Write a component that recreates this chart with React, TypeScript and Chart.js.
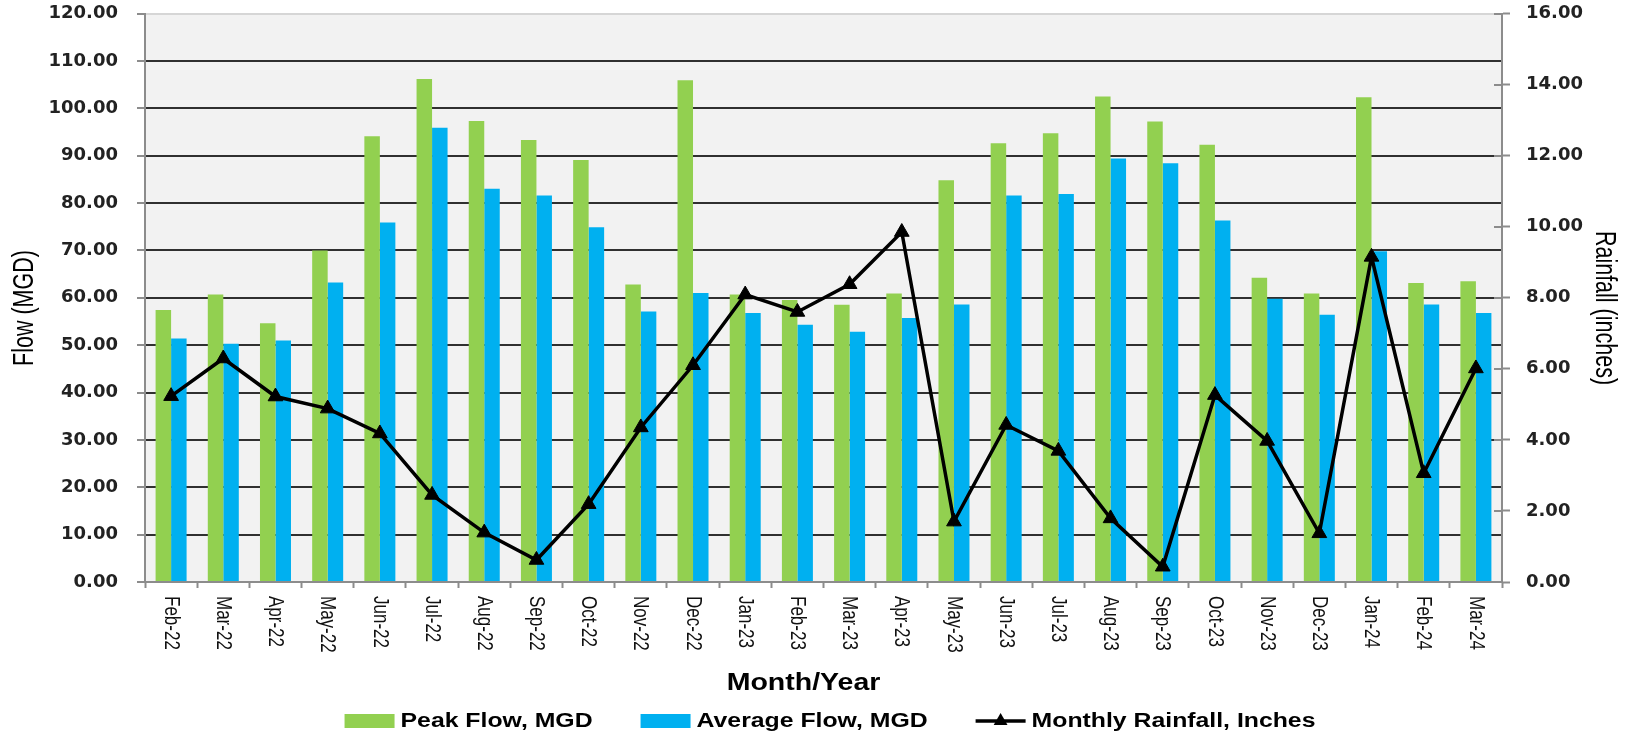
import React, { useEffect, useRef } from "react";
import { Chart, registerables } from "chart.js";

Chart.register(...registerables);

// Monthly flow and rainfall record
const months = [
  "Feb-22", "Mar-22", "Apr-22", "May-22", "Jun-22", "Jul-22", "Aug-22", "Sep-22",
  "Oct-22", "Nov-22", "Dec-22", "Jan-23", "Feb-23", "Mar-23", "Apr-23", "May-23",
  "Jun-23", "Jul-23", "Aug-23", "Sep-23", "Oct-23", "Nov-23", "Dec-23", "Jan-24",
  "Feb-24", "Mar-24",
];

const peakFlow = [
  57.4, 60.7, 54.6, 70.0, 94.1, 106.2, 97.3, 93.3, 89.1, 62.8, 105.9, 60.7, 59.5,
  58.5, 60.9, 84.8, 92.6, 94.7, 102.5, 97.2, 92.3, 64.2, 60.9, 102.3, 63.1, 63.5,
];

const avgFlow = [
  51.4, 50.3, 51.0, 63.2, 75.9, 95.9, 83.0, 81.6, 74.9, 57.1, 61.0, 56.8, 54.3,
  52.8, 55.7, 58.6, 81.6, 81.9, 89.4, 88.4, 76.3, 59.8, 56.4, 69.8, 58.6, 56.8,
];

const rainfall = [
  5.23, 6.29, 5.22, 4.88, 4.18, 2.45, 1.39, 0.62, 2.19, 4.35, 6.1, 8.09, 7.6,
  8.38, 9.85, 1.7, 4.42, 3.69, 1.79, 0.43, 5.26, 3.97, 1.37, 9.15, 3.06, 6.01,
];

// Axis ranges
const flowAxis = { min: 0, max: 120, step: 10 };
const rainAxis = { min: 0, max: 16, step: 2 };

const seriesLabels = {
  peak: "Peak Flow, MGD",
  avg: "Average Flow, MGD",
  rain: "Monthly Rainfall, Inches",
};

const axisTitles = { x: "Month/Year", y: "Flow (MGD)", y1: "Rainfall (inches)" };

const GREEN = "#92D050";
const BLUE = "#00B0F0";
const AXIS_GREY = "#8c8c8c";
const GRID_DARK = "#303030";
const PLOT_BG = "#F2F2F2";

const tickFont = { family: '"DejaVu Sans", Verdana, sans-serif', size: 18, weight: "bold" as const };

function drawText(
  ctx: CanvasRenderingContext2D,
  text: string,
  x: number,
  y: number,
  angle: number,
  sx: number,
  sy: number,
  font: string,
  align: CanvasTextAlign,
  baseline: CanvasTextBaseline,
  color = "#000"
) {
  ctx.save();
  ctx.translate(x, y);
  ctx.rotate(angle);
  ctx.scale(sx, sy);
  ctx.font = font;
  ctx.textAlign = align;
  ctx.textBaseline = baseline;
  ctx.fillStyle = color;
  ctx.fillText(text, 0, 0);
  ctx.restore();
}

function triangle(ctx: CanvasRenderingContext2D, x: number, y: number, r: number) {
  let rad = 0;
  ctx.beginPath();
  ctx.moveTo(x + Math.sin(rad) * r, y - Math.cos(rad) * r);
  rad += (2 * Math.PI) / 3;
  ctx.lineTo(x + Math.sin(rad) * r, y - Math.cos(rad) * r);
  rad += (2 * Math.PI) / 3;
  ctx.lineTo(x + Math.sin(rad) * r, y - Math.cos(rad) * r);
  ctx.closePath();
  ctx.fill();
}

const decorPlugin = {
  id: "decor",
  beforeDraw(chart: any) {
    const { ctx, chartArea: a, width, height } = chart;
    ctx.save();
    ctx.fillStyle = "#ffffff";
    ctx.fillRect(0, 0, width, height);
    ctx.fillStyle = PLOT_BG;
    ctx.fillRect(a.left, a.top, a.right - a.left, a.bottom - a.top);
    ctx.restore();
  },
  afterDraw(chart: any) {
    const { ctx, chartArea: a } = chart;
    const xs = chart.scales.x;
    const y1 = chart.scales.y1;

    // inward half of the rainfall axis tick marks
    ctx.save();
    ctx.strokeStyle = AXIS_GREY;
    ctx.lineWidth = 2;
    y1.ticks.forEach((t: any) => {
      const py = Math.round(y1.getPixelForValue(t.value));
      ctx.beginPath();
      ctx.moveTo(a.right - 8, py);
      ctx.lineTo(a.right, py);
      ctx.stroke();
    });
    ctx.restore();

    // category labels, reading downward
    const labelFont = '17px "Liberation Sans", Arial, sans-serif';
    months.forEach((m, i) => {
      const px = xs.getPixelForValue(i);
      drawText(ctx, m, px, a.bottom + 14, Math.PI / 2, 1, 1.35, labelFont, "left", "middle", "#111");
    });

    // axis titles
    const cx = (a.left + a.right) / 2;
    drawText(ctx, axisTitles.x, cx - 20, 684, 0, 1.24, 1, 'bold 23px "Liberation Sans", Arial, sans-serif', "center", "middle");
    const titleFont = '21.5px "Liberation Sans", Arial, sans-serif';
    drawText(ctx, axisTitles.y, 25, 308, -Math.PI / 2, 1, 1.4, titleFont, "center", "middle");
    drawText(ctx, axisTitles.y1, 1604, 308, Math.PI / 2, 1, 1.4, titleFont, "center", "middle");

    // legend
    const legendFont = 'bold 20px "Liberation Sans", Arial, sans-serif';
    const sx = 1.24;
    const sample = 50;
    const gapText = 6;
    const gapItem = 48;
    const ly = 721;
    const items = [
      { label: seriesLabels.peak, kind: "box", color: GREEN },
      { label: seriesLabels.avg, kind: "box", color: BLUE },
      { label: seriesLabels.rain, kind: "line", color: "#000" },
    ];
    ctx.save();
    ctx.font = legendFont;
    const widths = items.map((it) => ctx.measureText(it.label).width * sx);
    ctx.restore();
    const total =
      widths.reduce((s, w) => s + w, 0) + items.length * (sample + gapText) + (items.length - 1) * gapItem;
    let x = 830 - total / 2;
    items.forEach((it, i) => {
      ctx.save();
      if (it.kind === "box") {
        ctx.fillStyle = it.color;
        ctx.fillRect(x, ly - 7, sample, 14);
      } else {
        ctx.strokeStyle = it.color;
        ctx.fillStyle = it.color;
        ctx.lineWidth = 3.5;
        ctx.beginPath();
        ctx.moveTo(x, ly);
        ctx.lineTo(x + sample, ly);
        ctx.stroke();
        triangle(ctx, x + sample / 2, ly, 8);
      }
      ctx.restore();
      drawText(ctx, it.label, x + sample + gapText, ly, 0, sx, 1, legendFont, "left", "middle");
      x += sample + gapText + widths[i] + gapItem;
    });
  },
};

export default function App() {
  const ref = useRef<HTMLCanvasElement>(null);

  useEffect(() => {
    if (!ref.current) return;
    const chart = new Chart(ref.current, {
      type: "bar",
      data: {
        labels: months,
        datasets: [
          {
            type: "line",
            label: seriesLabels.rain,
            data: rainfall,
            yAxisID: "y1",
            borderColor: "#000",
            backgroundColor: "#000",
            borderWidth: 3.5,
            pointStyle: "triangle",
            pointRadius: 8.5,
            pointBackgroundColor: "#000",
            pointBorderColor: "#000",
            pointBorderWidth: 1,
            tension: 0,
            order: 0,
          } as any,
          {
            type: "bar",
            label: seriesLabels.peak,
            data: peakFlow,
            yAxisID: "y",
            backgroundColor: GREEN,
            barPercentage: 1,
            categoryPercentage: 0.594,
            order: 1,
          },
          {
            type: "bar",
            label: seriesLabels.avg,
            data: avgFlow,
            yAxisID: "y",
            backgroundColor: BLUE,
            barPercentage: 1,
            categoryPercentage: 0.594,
            order: 1,
          },
        ],
      },
      options: {
        responsive: false,
        animation: false,
        devicePixelRatio: 1,
        layout: { padding: { top: 13.5, left: 0, right: 0, bottom: 0 } },
        plugins: {
          legend: { display: false },
          tooltip: { enabled: false },
        },
        scales: {
          x: {
            ticks: { display: false },
            grid: {
              offset: true,
              drawOnChartArea: false,
              drawTicks: true,
              tickLength: 6,
              tickColor: AXIS_GREY,
              tickWidth: 2,
            },
            border: { color: AXIS_GREY, width: 2 },
            afterFit: (s: any) => {
              s.height = 151;
            },
          },
          y: {
            position: "left",
            min: flowAxis.min,
            max: flowAxis.max,
            ticks: {
              stepSize: flowAxis.step,
              callback: (v: any) => Number(v).toFixed(2),
              font: tickFont,
              color: "#222",
              padding: 19,
            },
            grid: {
              color: (c: any) =>
                c.tick && c.tick.value === flowAxis.max
                  ? "#d6d6d6"
                  : c.tick && c.tick.value === flowAxis.min
                  ? "rgba(0,0,0,0)"
                  : GRID_DARK,
              lineWidth: 2,
              tickLength: 8,
              tickColor: AXIS_GREY,
              tickWidth: 2,
            },
            border: { color: AXIS_GREY, width: 2 },
            afterFit: (s: any) => {
              s.width = 145;
              s.paddingTop = 0;
              s.paddingBottom = 0;
            },
          },
          y1: {
            position: "right",
            min: rainAxis.min,
            max: rainAxis.max,
            ticks: {
              stepSize: rainAxis.step,
              callback: (v: any) => Number(v).toFixed(2),
              font: tickFont,
              color: "#222",
              padding: 16,
            },
            grid: {
              drawOnChartArea: false,
              tickLength: 8,
              tickColor: AXIS_GREY,
              tickWidth: 2,
            },
            border: { color: AXIS_GREY, width: 2 },
            afterFit: (s: any) => {
              s.width = 128;
              s.paddingTop = 0;
              s.paddingBottom = 0;
            },
          },
        },
      },
      plugins: [decorPlugin],
    });
    return () => chart.destroy();
  }, []);

  return (
    <div style={{ position: "absolute", left: 0, top: 0, width: 1630, height: 733, background: "#fff" }}>
      <canvas ref={ref} width={1630} height={733} style={{ display: "block" }} />
    </div>
  );
}
